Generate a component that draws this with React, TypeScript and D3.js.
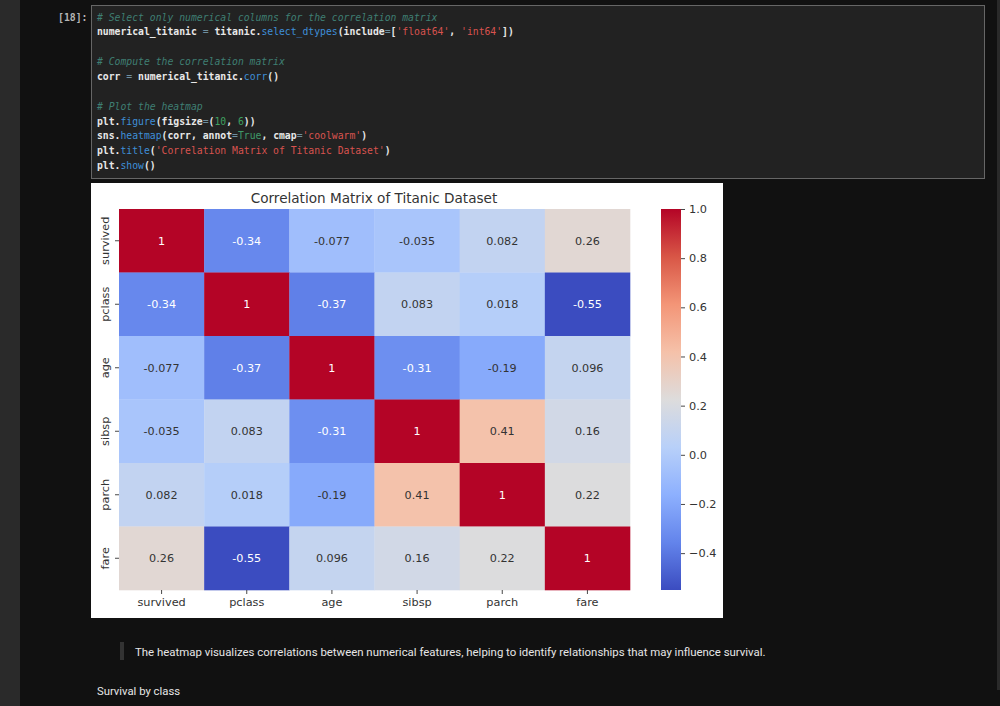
import React, { useRef, useEffect } from 'react';
import * as d3 from 'd3';

const columns = ['survived', 'pclass', 'age', 'sibsp', 'parch', 'fare'];

const survivedRow = [1, -0.34, -0.077, -0.035, 0.082, 0.26];
const pclassRow = [-0.34, 1, -0.37, 0.083, 0.018, -0.55];
const ageRow = [-0.077, -0.37, 1, -0.31, -0.19, 0.096];
const sibspRow = [-0.035, 0.083, -0.31, 1, 0.41, 0.16];
const parchRow = [0.082, 0.018, -0.19, 0.41, 1, 0.22];
const fareRow = [0.26, -0.55, 0.096, 0.16, 0.22, 1];
const rows = [survivedRow, pclassRow, ageRow, sibspRow, parchRow, fareRow];

const colorbarTicks = [1, 0.8, 0.6, 0.4, 0.2, 0, -0.2, -0.4];
const vmin = -0.55;
const vmax = 1;

// coolwarm, sampled at even steps
const coolwarm = ['#3b4cc0', '#6384eb', '#8db0fe', '#b8d0f9', '#dddcdc', '#f5c1a9', '#f39577', '#d85646', '#b40426'];

// code cell, one list of [text, color] per line
const WHITE = '#e8e8e8';
const BLUE = '#3f8fd8';
const GREEN = '#3f9a6a';
const RED = '#d9534f';
const COMMENT = '#3f7f73';
const NUM = '#3fa060';
const OP = '#6f8fa0';
const codeLines: [string, string][][] = [
  [['# Select only numerical columns for the correlation matrix', COMMENT]],
  [['numerical_titanic ', WHITE], ['= ', OP], ['titanic.', WHITE], ['select_dtypes', BLUE], ['(include', WHITE], ['=', OP], ['[', WHITE], ["'float64'", RED], [', ', WHITE], ["'int64'", RED], ['])', WHITE]],
  [],
  [['# Compute the correlation matrix', COMMENT]],
  [['corr ', WHITE], ['= ', OP], ['numerical_titanic.', WHITE], ['corr', BLUE], ['()', WHITE]],
  [],
  [['# Plot the heatmap', COMMENT]],
  [['plt.', WHITE], ['figure', BLUE], ['(figsize', WHITE], ['=', OP], ['(', WHITE], ['10', NUM], [', ', WHITE], ['6', NUM], ['))', WHITE]],
  [['sns.', WHITE], ['heatmap', BLUE], ['(corr, annot', WHITE], ['=', OP], ['True', GREEN], [', cmap', WHITE], ['=', OP], ["'coolwarm'", RED], [')', WHITE]],
  [['plt.', WHITE], ['title', BLUE], ['(', WHITE], ["'Correlation Matrix of Titanic Dataset'", RED], [')', WHITE]],
  [['plt.', WHITE], ['show', BLUE], ['()', WHITE]],
];

const SANS = '"DejaVu Sans", sans-serif';
const MONO = '"DejaVu Sans Mono", monospace';
const UI = 'Roboto, sans-serif';
const INK = '#333333';

const App: React.FC = () => {
  const svgRef = useRef<SVGSVGElement>(null);

  useEffect(() => {
    if (!svgRef.current) return;
    const svg = d3.select(svgRef.current);
    svg.selectAll('*').remove();

    // page
    svg.append('rect').attr('width', 1000).attr('height', 706).attr('fill', '#111111');
    svg.append('rect').attr('width', 20).attr('height', 706).attr('fill', '#2a2a2a');
    svg.append('rect').attr('x', 997).attr('width', 3).attr('height', 690).attr('fill', '#2a2a2a');

    // code cell
    svg.append('text').attr('x', 58).attr('y', 21).attr('fill', '#b5b5b5')
      .attr('font-family', MONO).attr('font-size', 9.8).attr('font-weight', 'bold').text('[18]:');
    svg.append('rect').attr('x', 91.5).attr('y', 5.5).attr('width', 893).attr('height', 173)
      .attr('fill', '#222222').attr('stroke', '#666666');
    const code = svg.append('g').attr('font-family', MONO).attr('font-size', 9.76);
    codeLines.forEach((line, i) => {
      const t = code.append('text').attr('x', 97).attr('y', 20.5 + i * 14.87)
        .style('white-space', 'pre');
      line.forEach(([s, c]) => {
        t.append('tspan').attr('fill', c)
          .attr('font-style', c === COMMENT ? 'italic' : 'normal')
          .attr('font-weight', c === WHITE ? 'bold' : 'normal')
          .text(s);
      });
    });

    // figure
    svg.append('rect').attr('x', 91).attr('y', 183).attr('width', 632).attr('height', 435).attr('fill', '#fff');

    const x = d3.scaleBand<string>().domain(columns).range([119, 630]);
    const y = d3.scaleBand<string>().domain(columns).range([209, 590]);
    const color = d3.scaleLinear<string>()
      .domain(coolwarm.map((_, i) => vmin + (vmax - vmin) * i / (coolwarm.length - 1)))
      .range(coolwarm)
      .interpolate(d3.interpolateRgb);
    const annotFmt = d3.format('.2~g');

    const heat = svg.append('g');
    rows.forEach((row, r) => {
      row.forEach((v, c) => {
        const fill = color(v);
        heat.append('rect')
          .attr('x', x(columns[c])!)
          .attr('y', y(columns[r])!)
          .attr('width', x.bandwidth() + 0.3)
          .attr('height', y.bandwidth() + 0.3)
          .attr('fill', fill);
        // seaborn picks the annotation colour from luminance
        const rgb = d3.rgb(fill);
        const lin = (u: number) => { const s = u / 255; return s <= 0.03928 ? s / 12.92 : Math.pow((s + 0.055) / 1.055, 2.4); };
        const lum = 0.2126 * lin(rgb.r) + 0.7152 * lin(rgb.g) + 0.0722 * lin(rgb.b);
        heat.append('text')
          .attr('x', x(columns[c])! + x.bandwidth() / 2)
          .attr('y', y(columns[r])! + y.bandwidth() / 2)
          .attr('dy', '0.36em')
          .attr('text-anchor', 'middle')
          .attr('font-family', SANS)
          .attr('font-size', 11.2)
          .attr('fill', lum > 0.408 ? INK : '#ffffff')
          .text(annotFmt(v).replace('\u2212', '-'));
      });
    });

    const styleAxis = (g: d3.Selection<SVGGElement, unknown, null, undefined>) => {
      g.select('.domain').remove();
      g.selectAll('line').attr('stroke', INK).attr('stroke-width', 0.9);
      g.selectAll('text').attr('fill', INK).attr('font-family', SANS).attr('font-size', 11.3);
    };

    svg.append('g').attr('transform', 'translate(0,590)')
      .call(d3.axisBottom(x).tickSize(4).tickPadding(4))
      .call(styleAxis);

    const left = svg.append('g').attr('transform', 'translate(119,0)')
      .call(d3.axisLeft(y).tickSize(4).tickPadding(4))
      .call(styleAxis);
    // labels are rotated inside each tick group, so y stays 0
    left.selectAll<SVGTextElement, string>('text')
      .attr('transform', 'rotate(-90,-9,0)')
      .attr('x', -9)
      .attr('y', -1.5)
      .attr('dy', 0)
      .attr('text-anchor', 'middle');

    svg.append('text').attr('x', 374).attr('y', 202.5).attr('text-anchor', 'middle')
      .attr('font-family', SANS).attr('font-size', 13.6).attr('fill', INK)
      .text('Correlation Matrix of Titanic Dataset');

    // colorbar
    const cbar = d3.scaleLinear().domain([vmin, vmax]).range([590, 209]);
    const defs = svg.append('defs');
    const grad = defs.append('linearGradient').attr('id', 'cbar')
      .attr('x1', 0).attr('x2', 0).attr('y1', 1).attr('y2', 0);
    coolwarm.forEach((c, i) => {
      grad.append('stop').attr('offset', i / (coolwarm.length - 1)).attr('stop-color', c);
    });
    svg.append('rect').attr('x', 661).attr('y', 209).attr('width', 20).attr('height', 381).attr('fill', 'url(#cbar)');
    svg.append('g').attr('transform', 'translate(681,0)')
      .call(d3.axisRight(cbar).tickValues(colorbarTicks).tickSize(4).tickPadding(4).tickFormat(d3.format('.1f') as any))
      .call(styleAxis);

    // markdown below the figure
    svg.append('rect').attr('x', 120).attr('y', 642).attr('width', 4).attr('height', 18).attr('fill', '#333333');
    svg.append('text').attr('x', 135).attr('y', 655.5).attr('fill', '#e6e6e6')
      .attr('font-family', UI).attr('font-size', 11.42)
      .text('The heatmap visualizes correlations between numerical features, helping to identify relationships that may influence survival.');
    svg.append('text').attr('x', 97).attr('y', 695).attr('fill', '#e6e6e6')
      .attr('font-family', UI).attr('font-size', 11.3)
      .text('Survival by class');
  }, []);

  return <svg ref={svgRef} width={1000} height={706} style={{ position: 'absolute', left: 0, top: 0 }} />;
};

export default App;
